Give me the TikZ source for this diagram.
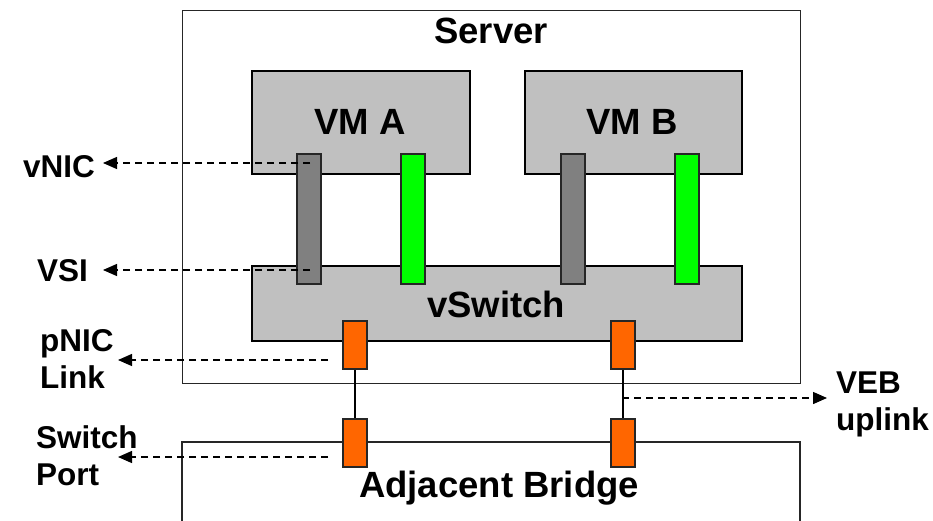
\documentclass[tikz,border=0pt]{standalone}
\usepackage{fontspec}
\setmainfont{Liberation Sans}
\usetikzlibrary{arrows.meta}
\definecolor{boxgray}{HTML}{C0C0C0}
\definecolor{bargray}{HTML}{808080}
\definecolor{bargreen}{HTML}{00FF00}
\definecolor{barorange}{HTML}{FF6600}
\tikzset{
  frame/.style={draw=black!85, line width=1.3pt},
  graybox/.style={draw=black, line width=2pt, fill=boxgray, anchor=north west, inner sep=0pt},
  bar/.style={draw=black!85, line width=2pt, anchor=north west, inner sep=0pt, minimum width=24pt},
  bigtxt/.style={font=\fontsize{36.5}{43}\selectfont\bfseries, inner sep=0pt},
  smalltxt/.style={font=\fontsize{31.5}{37}\selectfont\bfseries, inner sep=0pt, align=left},
  dasharrow/.style={draw=black, line width=1.4pt, dash pattern=on 7pt off 5pt, -{Triangle[length=14pt,width=12pt]}},
  link/.style={draw=black, line width=1.5pt}
}
\begin{document}
\begin{tikzpicture}[x=1pt,y=-1pt]
\useasboundingbox (0,0) rectangle (933,521);
% Server frame
\node[frame, anchor=north west, minimum width=618pt, minimum height=373pt, inner sep=0pt] (server) at (182,10) {};
% Adjacent bridge frame (open at bottom)
\coordinate (brBL) at (182,530);
\coordinate (brTL) at (182,442);
\coordinate (brTR) at (800,442);
\coordinate (brBR) at (800,530);
\draw[frame] (brBL) -- (brTL) -- (brTR) -- (brBR);
% VMs and vSwitch
\node[graybox, minimum width=218pt, minimum height=103pt] (vma) at (251,70) {};
\node[graybox, minimum width=217pt, minimum height=103pt] (vmb) at (524,70) {};
\node[graybox, minimum width=490pt, minimum height=75pt] (vsw) at (251,265) {};
% bars
\node[bar, fill=bargray, minimum height=130pt] (vnicA) at (296,153) {};
\node[bar, fill=bargreen, minimum height=130pt] (greenA) at (400,153) {};
\node[bar, fill=bargray, minimum height=130pt] (vnicB) at (560,153) {};
\node[bar, fill=bargreen, minimum height=130pt] (greenB) at (674,153) {};
% orange ports
\node[bar, fill=barorange, minimum height=48pt] (pnicL) at (342,320) {};
\node[bar, fill=barorange, minimum height=48pt] (pnicR) at (610,320) {};
\node[bar, fill=barorange, minimum height=48pt] (portL) at (342,418) {};
\node[bar, fill=barorange, minimum height=48pt] (portR) at (610,418) {};
% links
\draw[link] (pnicL.south) -- (portL.north);
\draw[link] (pnicR.south) -- (portR.north);
% big labels
\node[bigtxt, anchor=base] (tserver) at (491,44) {Server};
\node[bigtxt, anchor=base] (tvma) at (360,135) {VM A};
\node[bigtxt, anchor=base] (tvmb) at (632,135) {VM B};
\node[bigtxt, anchor=base] (tvsw) at (496,317) {vSwitch};
\node[bigtxt, anchor=base] (tbr) at (499,497) {Adjacent Bridge};
% small labels
\node[smalltxt, anchor=base west] (tvnic) at (23,178) {vNIC};
\node[smalltxt, anchor=base east] (tvsi) at (88,281) {VSI};
\node[smalltxt, anchor=base west] (tpnic) at (40,388) {pNIC\\Link};
\node[smalltxt, anchor=base west] (tport) at (36,485) {Switch\\Port};
\node[smalltxt, anchor=base west] (tveb) at (836,430) {VEB\\uplink};
% arrow coordinates
\coordinate (vnicS) at (310,163);
\coordinate (vnicT) at (103,163);
\coordinate (vsiS) at (310,270);
\coordinate (vsiT) at (103,270);
\coordinate (pnicS) at (328,360);
\coordinate (pnicT) at (118,360);
\coordinate (portS) at (328,457);
\coordinate (portT) at (118,457);
\coordinate (vebS) at (622,398);
\coordinate (vebT) at (827,398);
\draw[dasharrow] (vnicS) -- (vnicT);
\draw[dasharrow] (vsiS) -- (vsiT);
\draw[dasharrow] (pnicS) -- (pnicT);
\draw[dasharrow] (portS) -- (portT);
\draw[dasharrow] (vebS) -- (vebT);
\end{tikzpicture}
\end{document}
